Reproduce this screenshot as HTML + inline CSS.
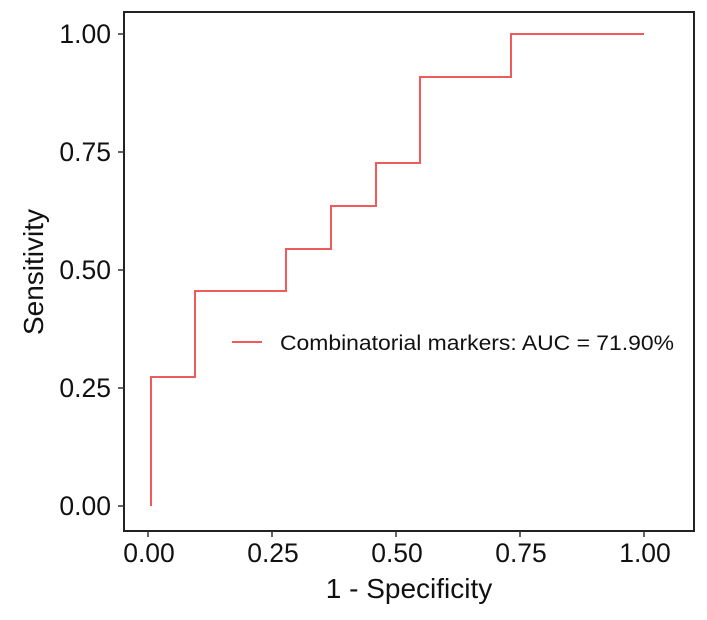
<!DOCTYPE html>
<html><head><meta charset="utf-8"><style>body{margin:0;background:#fff}</style></head>
<body>
<svg width="707" height="615" xmlns="http://www.w3.org/2000/svg" font-family="Liberation Sans, Arial, sans-serif">
<rect width="707" height="615" fill="#fff"/>
<rect x="124" y="12" width="570" height="519" fill="none" stroke="#222" stroke-width="2"/>
<g stroke="#333" stroke-width="1.5">
<line x1="118" y1="34" x2="124" y2="34"/><line x1="118" y1="152" x2="124" y2="152"/><line x1="118" y1="270" x2="124" y2="270"/><line x1="118" y1="388" x2="124" y2="388"/><line x1="118" y1="506" x2="124" y2="506"/>
<line x1="148" y1="531" x2="148" y2="537"/><line x1="272" y1="531" x2="272" y2="537"/><line x1="396" y1="531" x2="396" y2="537"/><line x1="520" y1="531" x2="520" y2="537"/><line x1="644" y1="531" x2="644" y2="537"/>
</g>
<g font-size="26.5" fill="#111" text-anchor="end">
<text x="111" y="43">1.00</text><text x="111" y="161">0.75</text><text x="111" y="279">0.50</text><text x="111" y="397">0.25</text><text x="111" y="515">0.00</text>
</g>
<g font-size="26.5" fill="#111" text-anchor="middle">
<text x="149" y="562">0.00</text><text x="273" y="562">0.25</text><text x="397" y="562">0.50</text><text x="521" y="562">0.75</text><text x="645" y="562">1.00</text>
</g>
<text x="409" y="598" font-size="28" text-anchor="middle" fill="#111">1 - Specificity</text>
<text transform="translate(43,272) rotate(-90)" font-size="28" text-anchor="middle" fill="#111">Sensitivity</text>
<polyline fill="none" stroke="#ef5b5b" stroke-width="2" points="151,506 151,377 195,377 195,291 286,291 286,249 331,249 331,206 376,206 376,163 420,163 420,77 511,77 511,34 644,34"/>
<line x1="232" y1="342" x2="262" y2="342" stroke="#ef5b5b" stroke-width="2"/>
<text x="280" y="350" font-size="21" fill="#111" textLength="394" lengthAdjust="spacingAndGlyphs">Combinatorial markers: AUC = 71.90%</text>
</svg>
</body></html>
